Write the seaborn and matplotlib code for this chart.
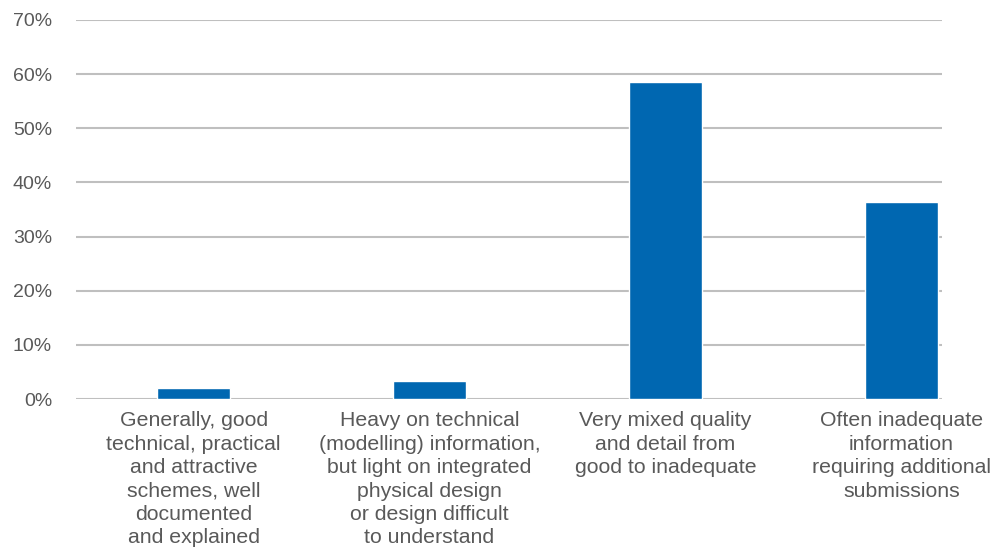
import matplotlib
matplotlib.use("Agg")
import matplotlib.pyplot as plt
import seaborn as sns
import pandas as pd

# ----------------------------------------
# Data
# ----------------------------------------
categories = [
    "Generally, good\ntechnical, practical\nand attractive\nschemes, well\ndocumented\nand explained",
    "Heavy on technical\n(modelling) information,\nbut light on integrated\nphysical design\nor design difficult\nto understand",
    "Very mixed quality\nand detail from\ngood to inadequate",
    "Often inadequate\ninformation\nrequiring additional\nsubmissions",
]
shares = [2.0, 3.3, 58.6, 36.4]
y_ticks = [0, 10, 20, 30, 40, 50, 60, 70]

df = pd.DataFrame({"category": categories, "share": shares})

# ----------------------------------------
# Style
# ----------------------------------------
sns.set_style("white")
plt.rcParams["font.family"] = ["Liberation Sans", "DejaVu Sans"]
text_color = "#595959"
grid_color = "#bfbfbf"
bar_color = "#0067b1"

fig = plt.figure(figsize=(10.01, 5.49), dpi=100)
ax = fig.add_axes([75.7 / 1001, 150 / 549, (941.7 - 75.7) / 1001, 379 / 549])

sns.barplot(data=df, x="category", y="share", color=bar_color,
            width=0.309, saturation=1, ax=ax, zorder=3)

ax.set_xlim(-0.5, 3.171)
ax.set_ylim(0, 70)
ax.set_yticks(y_ticks)
ax.set_yticklabels([f"{t}%" for t in y_ticks])
ax.yaxis.grid(True, color=grid_color, linewidth=1.5, zorder=0)
ax.set_axisbelow(True)
for s in ax.spines.values():
    s.set_visible(False)

ax.set_xlabel("")
ax.set_ylabel("")
ax.tick_params(axis="y", length=0, pad=17, labelsize=14, labelcolor=text_color)
ax.tick_params(axis="x", length=0, pad=9, labelsize=15.3, labelcolor=text_color)
for lbl in ax.get_xticklabels():
    lbl.set_linespacing(1.29)
    lbl.set_clip_on(False)

fig.savefig("out.png", dpi=100)
